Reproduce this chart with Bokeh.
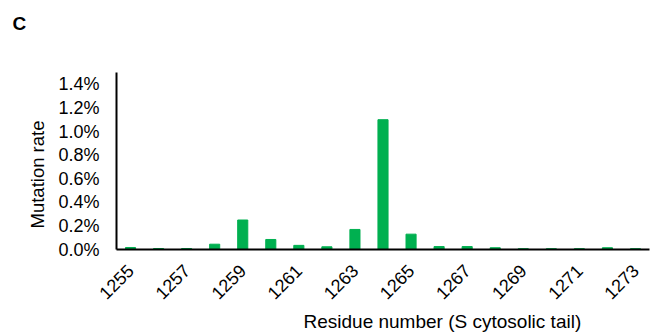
import math
from bokeh.plotting import figure
from bokeh.models import FixedTicker, NumeralTickFormatter, Title, Range1d
from bokeh.embed import file_html
from bokeh.resources import INLINE

residues = list(range(1255, 1274))
mutation_rate = [0.00017, 0.00008, 0.00008, 0.00045, 0.0025, 0.00085, 0.00035,
                 0.00023, 0.0017, 0.011, 0.0013, 0.00025, 0.00025, 0.00015,
                 0.00007, 0.00007, 0.00007, 0.00015, 0.00007]
x_tick_values = list(range(1255, 1274, 2))
y_tick_values = [0.0, 0.002, 0.004, 0.006, 0.008, 0.010, 0.012, 0.014]

FONT = "Liberation Sans"
W, H = 650, 333

p = figure(width=W, height=H, output_backend="svg", toolbar_location=None,
           x_range=Range1d(1254.5, 1273.5), y_range=Range1d(0, 0.015),
           min_border_left=116, min_border_right=1, min_border_top=72,
           min_border_bottom=84)
p.outline_line_color = None
p.xgrid.visible = False
p.ygrid.visible = False

p.vbar(x=residues, top=mutation_rate, width=0.36, color="#00B050")

xa = p.xaxis[0]
xa.ticker = FixedTicker(ticks=x_tick_values)
xa.major_label_orientation = math.pi / 4
xa.major_tick_line_color = None
xa.minor_tick_line_color = None
xa.major_tick_out = 0
xa.axis_line_color = "black"
xa.axis_line_width = 2
xa.major_label_text_font = FONT
xa.major_label_text_font_size = "18px"
xa.major_label_text_color = "black"
xa.major_label_standoff = 18

ya = p.yaxis[0]
ya.ticker = FixedTicker(ticks=y_tick_values)
ya.formatter = NumeralTickFormatter(format="0.0%")
ya.major_tick_line_color = None
ya.minor_tick_line_color = None
ya.major_tick_out = 0
ya.axis_line_color = "black"
ya.axis_line_width = 2
ya.major_label_text_font = FONT
ya.major_label_text_font_size = "18px"
ya.major_label_text_color = "black"
ya.major_label_standoff = 17

p.add_layout(Title(text="Residue number (S cytosolic tail)", align="left",
                   offset=187, standoff=1, text_font=FONT, text_font_size="19px",
                   text_font_style="normal", text_color="black"), "below")
p.add_layout(Title(text="Mutation rate", align="left", offset=21, standoff=16,
                   text_font=FONT, text_font_size="18.5px",
                   text_font_style="normal", text_color="black"), "left")
# spacer between the plot frame and the panel letter
p.add_layout(Title(text=" ", standoff=16, text_font=FONT, text_font_size="19px",
                   text_color="white"), "above")
p.add_layout(Title(text="C", align="left", offset=-104, standoff=0,
                   text_font=FONT, text_font_size="19px",
                   text_font_style="bold", text_color="black"), "above")

open("out.html", "w").write(file_html(p, INLINE))
